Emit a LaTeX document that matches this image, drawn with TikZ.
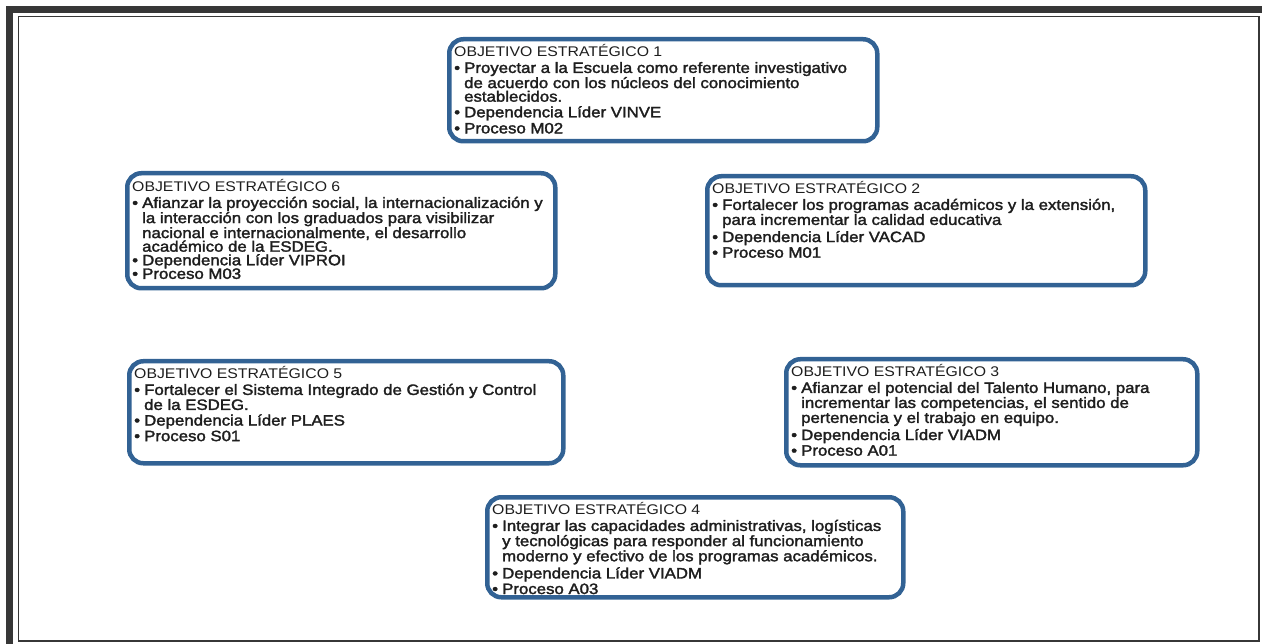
\documentclass[tikz,border=0pt]{standalone}
\usepackage{fontspec}
\setmainfont{Liberation Sans}
\newfontfamily\basef[FakeStretch=1.13]{Liberation Sans}
\newfontfamily\bodyf[FakeStretch=1.12,FakeBold=2]{Liberation Sans}
\definecolor{boxblue}{RGB}{50,98,148}
\definecolor{txt}{RGB}{30,30,30}
\definecolor{framec}{RGB}{55,55,55}
\newcommand\bul{\makebox[10pt][l]{\textbullet}}
\newcommand\ind{\hspace*{10pt}}
\newcommand\ttl[1]{{\basef\fontsize{14}{13.6}\selectfont #1}}
\tikzset{
  obox/.style={draw=boxblue, line width=4.5pt, rounded corners=14pt, fill=white, anchor=north west, inner sep=0pt},
  otext/.style={anchor=north west, inner sep=0pt, align=left, text=txt,
    font={\bodyf\fontsize{15}{13.6}\selectfont}}
}
\begin{document}
\begin{tikzpicture}[x=1pt,y=-1pt]
\useasboundingbox (0,0) rectangle (1262,644);
% outer frame
\draw[framec, line width=7pt] (9.5,644) -- (9.5,10) -- (1262,10);
\draw[framec, line width=1.6pt] (18.5,16.5) rectangle (1259,641);

% boxes
\node[obox, minimum width=428pt, minimum height=102pt] (b1) at (447,37) {};
\node[obox, minimum width=428pt, minimum height=115pt] (b6) at (125,171) {};
\node[obox, minimum width=438pt, minimum height=109pt] (b2) at (705,174) {};
\node[obox, minimum width=434pt, minimum height=102pt] (b5) at (127,359) {};
\node[obox, minimum width=411pt, minimum height=106pt] (b3) at (784,357) {};
\node[obox, minimum width=416pt, minimum height=100pt] (b4) at (485,495) {};

% texts
\node[otext] (t1) at ([shift={(7,7)}]b1.north west) {%
\ttl{OBJETIVO ESTRATÉGICO 1}\\[3pt]
\bul Proyectar a la Escuela como referente investigativo\\
\ind de acuerdo con los núcleos del conocimiento\\
\ind establecidos.\\[2pt]
\bul Dependencia Líder VINVE\\[2.5pt]
\bul Proceso M02};

\node[otext] (t6) at ([shift={(7,8)}]b6.north west) {%
\ttl{OBJETIVO ESTRATÉGICO 6}\\[3pt]
\bul Afianzar la proyección social, la internacionalización y\\
\ind la interacción con los graduados para visibilizar\\
\ind nacional e internacionalmente, el desarrollo\\
\ind académico de la ESDEG.\\
\bul Dependencia Líder VIPROI\\
\bul Proceso M03};

\node[otext] (t2) at ([shift={(7,7)}]b2.north west) {%
\ttl{OBJETIVO ESTRATÉGICO 2}\\[3pt]
\bul Fortalecer los programas académicos y la extensión,\\
\ind para incrementar la calidad educativa\\[2pt]
\bul Dependencia Líder VACAD\\[2pt]
\bul Proceso M01};

\node[otext] (t5) at ([shift={(7,7)}]b5.north west) {%
\ttl{OBJETIVO ESTRATÉGICO 5}\\[3pt]
\bul Fortalecer el Sistema Integrado de Gestión y Control\\
\ind de la ESDEG.\\[2pt]
\bul Dependencia Líder PLAES\\[2pt]
\bul Proceso S01};

\node[otext] (t3) at ([shift={(7,7)}]b3.north west) {%
\ttl{OBJETIVO ESTRATÉGICO 3}\\[3pt]
\bul Afianzar el potencial del Talento Humano, para\\
\ind incrementar las competencias, el sentido de\\
\ind pertenencia y el trabajo en equipo.\\[2pt]
\bul Dependencia Líder VIADM\\[2pt]
\bul Proceso A01};

\node[otext] (t4) at ([shift={(7,7)}]b4.north west) {%
\ttl{OBJETIVO ESTRATÉGICO 4}\\[3pt]
\bul Integrar las capacidades administrativas, logísticas\\
\ind y tecnológicas para responder al funcionamiento\\
\ind moderno y efectivo de los programas académicos.\\[2pt]
\bul Dependencia Líder VIADM\\[2pt]
\bul Proceso A03};
\end{tikzpicture}
\end{document}
